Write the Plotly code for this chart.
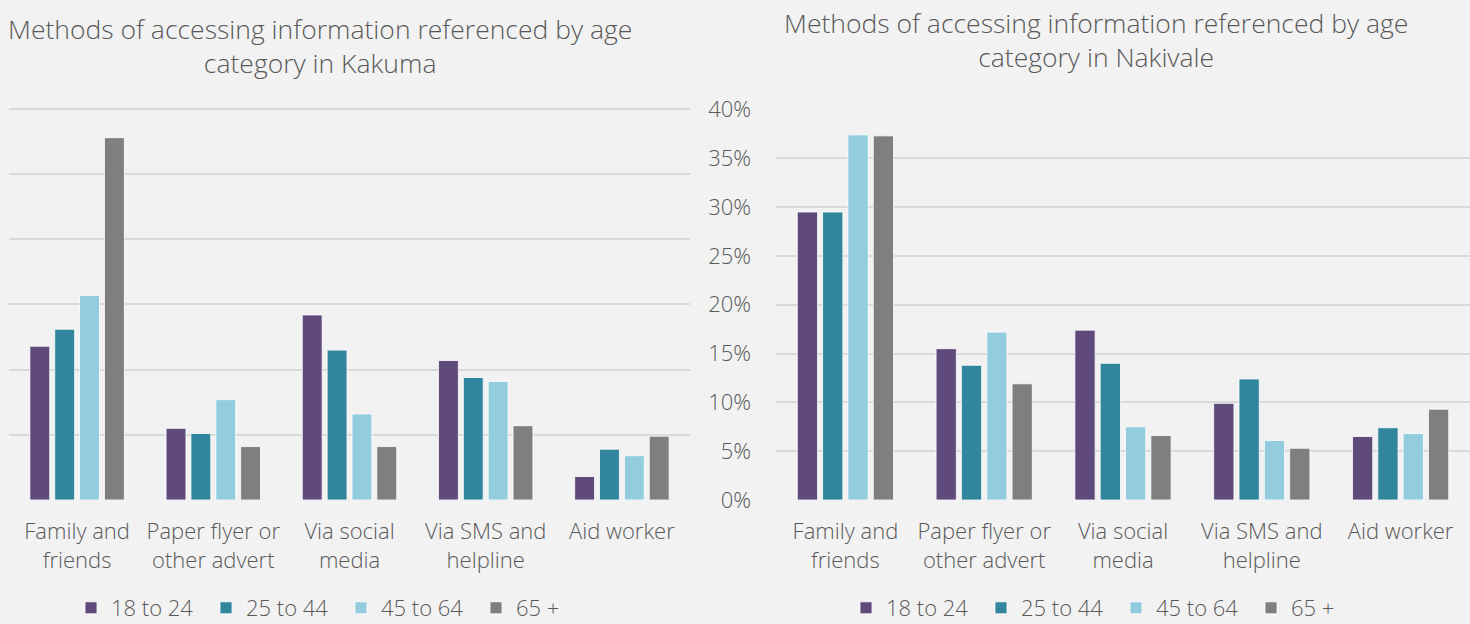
import plotly.graph_objects as go
from plotly.subplots import make_subplots

categories = ["Family and<br>friends", "Paper flyer or<br>other advert", "Via social<br>media",
              "Via SMS and<br>helpline", "Aid worker"]
age_groups = ["18 to 24", "25 to 44", "45 to 64", "65 +"]
colors = ["#604a7b", "#31859c", "#93cddd", "#7f7f7f"]

# Kakuma (percent) - one list per age group
kakuma_18_24 = [11.8, 5.5, 14.2, 10.7, 1.8]
kakuma_25_44 = [13.1, 5.1, 11.5, 9.4, 3.9]
kakuma_45_64 = [15.7, 7.7, 6.6, 9.1, 3.4]
kakuma_65 = [27.8, 4.1, 4.1, 5.7, 4.9]

# Nakivale (percent)
nakivale_18_24 = [29.5, 15.5, 17.4, 9.9, 6.5]
nakivale_25_44 = [29.5, 13.8, 14.0, 12.4, 7.4]
nakivale_45_64 = [37.4, 17.2, 7.5, 6.1, 6.8]
nakivale_65 = [37.3, 11.9, 6.6, 5.3, 9.3]

kakuma = [kakuma_18_24, kakuma_25_44, kakuma_45_64, kakuma_65]
nakivale = [nakivale_18_24, nakivale_25_44, nakivale_45_64, nakivale_65]

left_ticks = [0, 5, 10, 15, 20, 25, 30]
right_ticks = [0, 5, 10, 15, 20, 25, 30, 35, 40]

FONT = "Open Sans"
TXT = "#595959"
GRID = "#d9d9d9"
BG = "#f2f2f2"
W, H = 1470, 624

fig = make_subplots(rows=1, cols=2)

for name, vals, c in zip(age_groups, kakuma, colors):
    fig.add_trace(go.Bar(x=categories, y=vals, name=name, marker_color=c,
                         marker_line=dict(color="#ffffff", width=0.8), legend="legend"), row=1, col=1)
for name, vals, c in zip(age_groups, nakivale, colors):
    fig.add_trace(go.Bar(x=categories, y=vals, name=name, marker_color=c,
                         marker_line=dict(color="#ffffff", width=0.8), legend="legend2"), row=1, col=2)

# plot areas: 0 at y=500px, top gridline at y=109px (both charts)
ybot = 1 - 500 / H
ytop_right = 1 - 109 / H
left_max = 31.0
ytop_left = 1 - (500 - (500 - 109) * left_max / 30) / H

legend_common = dict(orientation="h", y=1 - 608 / H, yanchor="middle",
                     font=dict(size=22, family=FONT, color=TXT, weight=300),
                     bgcolor="rgba(0,0,0,0)", itemwidth=30,
                     entrywidth=90, entrywidthmode="pixels")

fig.update_layout(
    width=W, height=H,
    paper_bgcolor=BG, plot_bgcolor=BG,
    margin=dict(l=0, r=0, t=0, b=0, autoexpand=False),
    barmode="group", bargap=0.27, bargroupgap=0.2,
    font=dict(family=FONT, color=TXT, size=22, weight=300),
    xaxis=dict(domain=[9 / W, 690 / W], tickfont=dict(size=22, weight=300), showgrid=False,
               ticks="", ticklabelstandoff=16),
    xaxis2=dict(domain=[776 / W, 1.0], tickfont=dict(size=22, weight=300), showgrid=False,
                ticks="", ticklabelstandoff=16),
    yaxis=dict(domain=[ybot, ytop_left], range=[0, left_max], tickmode="array", tickvals=left_ticks,
               showticklabels=False, gridcolor=GRID, gridwidth=1.5, zeroline=False),
    yaxis2=dict(domain=[ybot, ytop_right], range=[0, 40.05], tickmode="array", tickvals=right_ticks,
                ticktext=[f"{v}%" for v in right_ticks],
                tickfont=dict(size=22, weight=300), gridcolor=GRID, gridwidth=1.5, zeroline=False,
                ticklabelstandoff=24),
    legend=dict(x=341 / W, xanchor="center", **legend_common),
    legend2=dict(x=1116 / W, xanchor="center", **legend_common),
)

title_font = dict(size=26.5, family=FONT, color=TXT, weight=300)
fig.add_annotation(text="Methods of accessing information referenced by age<br>category in Kakuma",
                   x=320 / W, y=1 - 9 / H, xref="paper", yref="paper",
                   xanchor="center", yanchor="top", showarrow=False, font=title_font)
fig.add_annotation(text="Methods of accessing information referenced by age<br>category in Nakivale",
                   x=1096 / W, y=1 - 3 / H, xref="paper", yref="paper",
                   xanchor="center", yanchor="top", showarrow=False, font=title_font)

fig.write_html("out.html", config={"displayModeBar": False},
               post_script="document.body.style.margin='0';")
